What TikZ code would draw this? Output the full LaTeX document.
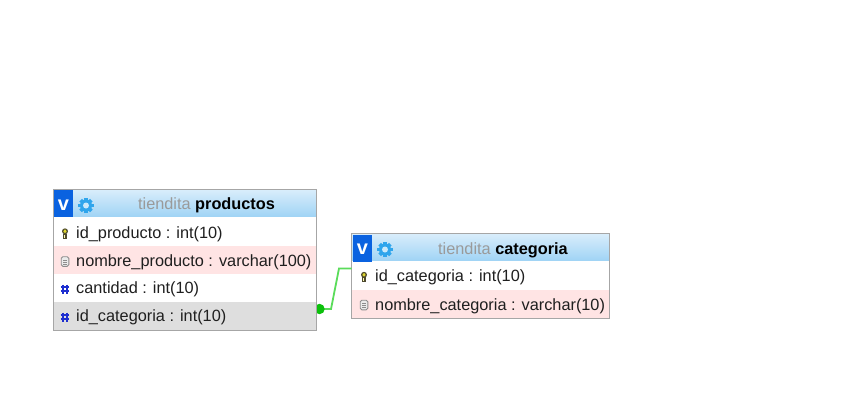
\documentclass[tikz,border=0pt]{standalone}
\usepackage{fontspec}
\setmainfont{Liberation Sans}
\usetikzlibrary{calc}
\definecolor{hdtop}{HTML}{D8EDFB}
\definecolor{hdbot}{HTML}{9FD3F5}
\definecolor{pinkrow}{HTML}{FFE4E4}
\definecolor{greyrow}{HTML}{DEDEDE}
\definecolor{frameg}{HTML}{A6A6A6}
\definecolor{vblue}{HTML}{0A62E0}
\definecolor{gearb}{HTML}{2FA5EC}
\definecolor{hashb}{HTML}{1E2FD0}
\definecolor{linkg}{HTML}{5ADC5A}
\definecolor{dotg}{HTML}{0CC00C}
\definecolor{schemag}{HTML}{9A9A9A}
\tikzset{
  x=1pt,y=-1pt,
  rowtext/.style={anchor=base west,inner sep=0pt,font=\fontsize{16.3}{18}\selectfont,text=black!88},
  titletext/.style={inner sep=0pt,font=\fontsize{16.3}{18}\selectfont,anchor=base},
  tframe/.style={draw=frameg,line width=1pt,fill=none},
  pkicon/.pic={
    \fill[black!55!olive] (0,-2.2) ellipse (3 and 3);
    \fill[yellow!65!olive!80!white] (0,-2.2) ellipse (1.7 and 1.9);
    \fill[black!60!olive] (-2,0) rectangle (2,5.2);
    \fill[yellow!30!white] (-.9,1) rectangle (.4,4.2);
  },
  docicon/.pic={
    \draw[black!45,fill=black!8,line width=.9pt,rounded corners=1.5pt] (-3.8,-4.8) rectangle (3.8,4.8);
    \draw[black!45,line width=.8pt] (-1.8,-1.6) -- (1.8,-1.6) (-1.8,.6) -- (1.8,.6) (-1.8,2.6) -- (1.8,2.6);
  },
  hashicon/.pic={
    \draw[hashb,line width=1.3pt] (-2.1,-4.5) -- (-2.1,4.5) (2.1,-4.5) -- (2.1,4.5) (-4.3,-2) -- (4.3,-2) (-4.3,2) -- (4.3,2);
  },
  vicon/.pic={
    \fill[vblue] (0,0) rectangle (19,27);
    \node[inner sep=0pt,text=white,font=\bfseries\fontsize{20}{20}\selectfont] at (9.5,15) {v};
  },
  gearicon/.pic={
    \foreach \a in {0,45,...,315}{\fill[gearb,rotate=\a] (-1.8,-7.6) rectangle (1.8,0);}
    \fill[gearb] (0,0) circle (6);
    \fill[white!75!gearb] (0,0) circle (3);
  },
}
\begin{document}
\begin{tikzpicture}
\useasboundingbox (0,0) rectangle (845,410);
\fill[white] (0,0) rectangle (845,410);
% table productos
\fill[top color=hdtop,bottom color=hdbot] (54,190) rectangle (316,217);
\fill[white] (54,217) rectangle (316,246);
\fill[pinkrow] (54,246) rectangle (316,274);
\fill[white] (54,274) rectangle (316,302);
\fill[greyrow] (54,302) rectangle (316,330);
\pic at (54,190) {vicon};
\pic at (86,205.5) {gearicon};
\node[titletext] (t1) at (206.5,209.5) {\textcolor{schemag}{tiendita} \textbf{productos}};
\pic at (65,233.5) {pkicon};
\node[rowtext] (p1) at (76,238) {id\_producto : int(10)};
\pic at (65,261.5) {docicon};
\node[rowtext] (p2) at (76,266) {nombre\_producto : varchar(100)};
\pic at (65,289) {hashicon};
\node[rowtext] (p3) at (76,293) {cantidad : int(10)};
\pic at (65,317) {hashicon};
\node[rowtext] (p4) at (76,321) {id\_categoria : int(10)};
\draw[tframe] (53.5,189.5) rectangle (316.5,330.5);
\coordinate (fk) at (317,309);
% table categoria
\fill[top color=hdtop,bottom color=hdbot] (352,234) rectangle (609,261);
\fill[white] (352,261) rectangle (609,290);
\fill[pinkrow] (352,290) rectangle (609,318);
\pic at (353,234.5) {vicon};
\pic at (385,249.5) {gearicon};
\node[titletext] (t2) at (503,254) {\textcolor{schemag}{tiendita} \textbf{categoria}};
\pic at (364,277) {pkicon};
\node[rowtext] (c1) at (375,281) {id\_categoria : int(10)};
\pic at (364,305) {docicon};
\node[rowtext] (c2) at (375,310) {nombre\_categoria : varchar(10)};
\draw[tframe] (351.5,233.5) rectangle (609.5,318.5);
\coordinate (pk) at (351.5,268.5);
% relation
\draw[linkg,line width=1.8pt] (fk) -- (331,309) -- (339,268.5) -- (pk);
\begin{scope}
\clip (317,300) rectangle (330,318);
\fill[dotg] (319.5,309) circle (5.2);
\end{scope}
\end{tikzpicture}
\end{document}
